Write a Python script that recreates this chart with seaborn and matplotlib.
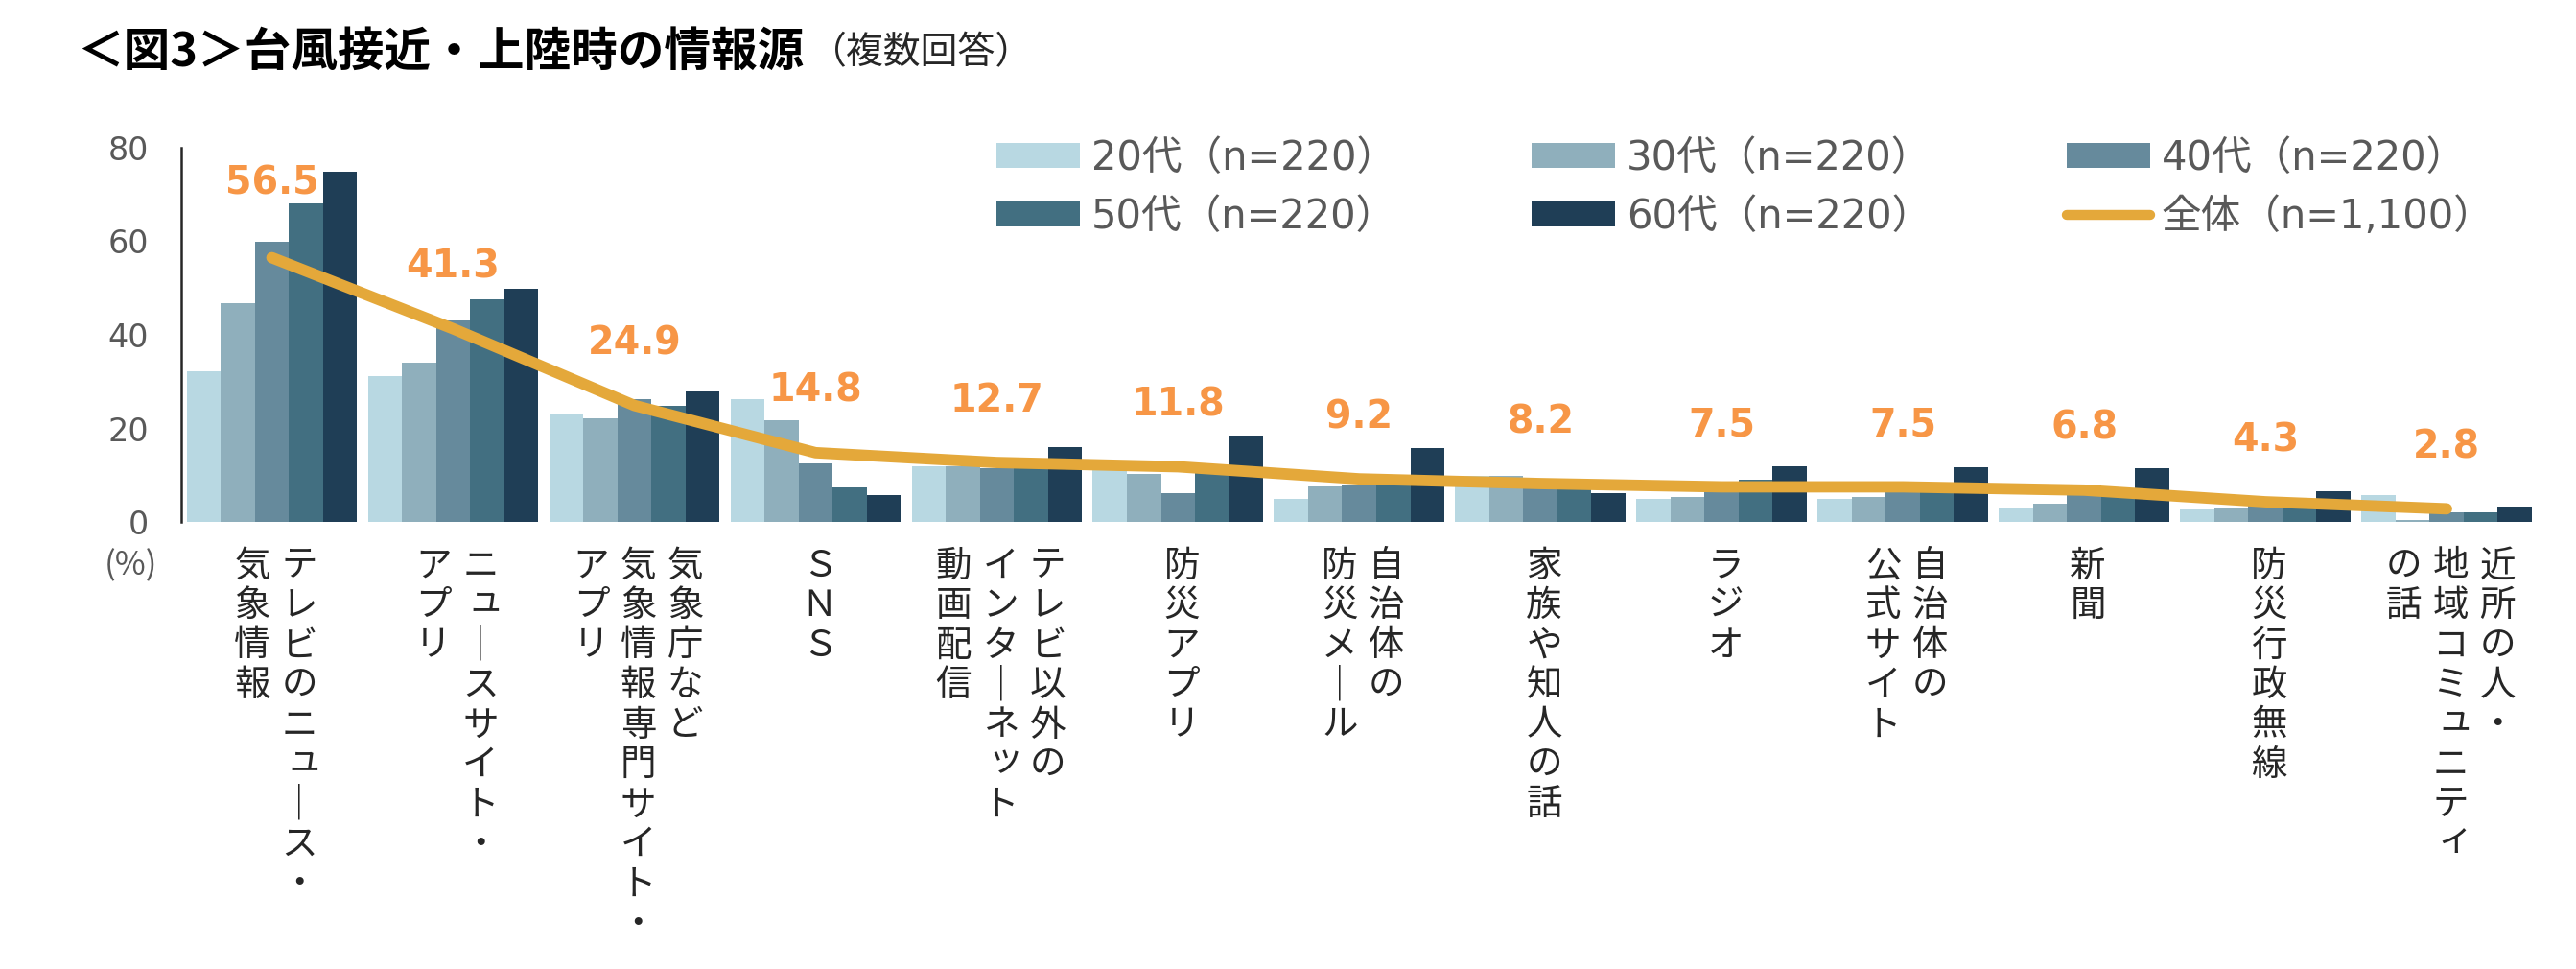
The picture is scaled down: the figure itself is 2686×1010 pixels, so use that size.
import numpy as np
import pandas as pd
import matplotlib
matplotlib.use("Agg")
import matplotlib.pyplot as plt
import seaborn as sns
from matplotlib.patches import Patch
from matplotlib.lines import Line2D

# ---------------- data ----------------
categories = [
    "テレビのニュース・\n気象情報",
    "ニュースサイト・\nアプリ",
    "気象庁など\n気象情報専門サイト・\nアプリ",
    "ＳＮＳ",
    "テレビ以外の\nインターネット\n動画配信",
    "防災アプリ",
    "自治体の\n防災メール",
    "家族や知人の話",
    "ラジオ",
    "自治体の\n公式サイト",
    "新聞",
    "防災行政無線",
    "近所の人・\n地域コミュニティ\nの話",
]
age_groups = ["20代", "30代", "40代", "50代", "60代"]
v20 = [32.3, 31.2, 23.0, 26.3, 11.8, 11.8, 4.9, 9.9, 4.9, 4.9, 3.1, 2.7, 5.8]
v30 = [46.8, 34.1, 22.2, 21.8, 11.8, 10.3, 7.6, 9.9, 5.3, 5.3, 3.9, 3.1, 0.4]
v40 = [59.9, 43.1, 26.3, 12.6, 11.4, 6.2, 8.0, 8.0, 6.3, 7.8, 8.0, 4.3, 2.1]
v50 = [68.1, 47.6, 24.9, 7.3, 12.5, 12.1, 9.6, 7.0, 9.1, 7.8, 7.2, 4.6, 2.1]
v60 = [74.9, 49.9, 27.8, 5.8, 15.9, 18.5, 15.8, 6.2, 11.8, 11.7, 11.4, 6.6, 3.2]
overall = [56.5, 41.3, 24.9, 14.8, 12.7, 11.8, 9.2, 8.2, 7.5, 7.5, 6.8, 4.3, 2.8]
legend_labels = ["20代（n=220）", "30代（n=220）", "40代（n=220）",
                 "50代（n=220）", "60代（n=220）", "全体（n=1,100）"]
yticks = [0, 20, 40, 60, 80]

# ---------------- style ----------------
bar_colors = ["#B8D8E2", "#8FAFBC", "#668A9C", "#426F81", "#1F3E56"]
line_color = "#E4A83A"
label_color = "#F79646"
text_gray = "#595959"
cjk = "Noto Sans CJK JP"

sns.set_style("white")
plt.rcParams["font.family"] = ["DejaVu Sans", cjk]

W, H = 2686, 1010
fig = plt.figure(figsize=(W / 100, H / 100), dpi=100)
ax = fig.add_axes([189 / W, 466 / H, (2645.5 - 189) / W, (856 - 466) / H])

df = pd.DataFrame({
    "cat": np.repeat(categories, len(age_groups)),
    "age": age_groups * len(categories),
    "val": np.column_stack([v20, v30, v40, v50, v60]).ravel(),
})

sns.barplot(data=df, x="cat", y="val", hue="age", order=categories,
            hue_order=age_groups, palette=bar_colors, saturation=1,
            width=0.94, gap=0, linewidth=0, errorbar=None, legend=False, ax=ax)

xpos = np.arange(len(categories))
sns.lineplot(x=xpos, y=overall, color=line_color, linewidth=8.5,
             solid_capstyle="round", solid_joinstyle="round",
             legend=False, ax=ax, zorder=4)

for i, v in enumerate(overall):
    dy = 77 if i == 0 else 64
    ax.annotate(f"{v:.1f}", xy=(i, v), xytext=(0, dy), textcoords="offset pixels",
                ha="center", va="center", fontsize=28.5, fontweight="bold",
                color=label_color, family="DejaVu Sans", zorder=5)

ax.set_xlim(-0.5, len(categories) - 0.5)
ax.set_ylim(0, 80)
ax.set_yticks(yticks)
ax.set_xticks([])
ax.set_xlabel("")
ax.set_ylabel("")
for s in ["top", "right", "bottom"]:
    ax.spines[s].set_visible(False)
ax.spines["left"].set_color("#262626")
ax.spines["left"].set_linewidth(1.8)
ax.tick_params(axis="y", direction="out", length=8.6, width=1.8, color="#262626",
               pad=16, labelsize=24, labelcolor=text_gray)
for t in ax.get_yticklabels():
    t.set_family("DejaVu Sans")

# vertical (tategaki) category labels
vert_map = {"ー": "｜"}
small_kana = set("ァィゥェォッャュョ")
pitch = 41.5
col_gap = 49
for i, cat in enumerate(categories):
    cols = cat.split("\n")
    n = len(cols)
    for k, col in enumerate(cols):
        dx = 4 + ((n - 1) / 2 - k) * col_gap
        for j, ch in enumerate(col):
            sx, sy = (5, 5) if ch in small_kana else (0, 0)
            ax.annotate(vert_map.get(ch, ch), xy=(i, 0),
                        xytext=(dx + sx, -(46 + j * pitch) + sy),
                        textcoords="offset pixels", ha="center", va="center",
                        fontsize=27, family=cjk, color="#262626",
                        annotation_clip=False)

ax.annotate("(%)", xy=(0, 0), xycoords="axes fraction", xytext=(-52, -46),
            textcoords="offset pixels", ha="center", va="center",
            fontsize=25, family=cjk, color=text_gray, annotation_clip=False)

# title
title = fig.text(80 / W, 1 - 54 / H, "＜図3＞台風接近・上陸時の情報源",
                 fontsize=35, fontweight="bold", family=cjk, color="#000000",
                 ha="left", va="center")
fig.canvas.draw()
ax.annotate("（複数回答）", xy=(1, 0.5), xycoords=title, xytext=(6, -1),
            textcoords="offset pixels", ha="left", va="center",
            fontsize=28, family=cjk, color="#262626", annotation_clip=False)

# legend (row-major order in 3 columns)
patches = [Patch(facecolor=c, edgecolor="none") for c in bar_colors]
line_h = Line2D([0], [0], color=line_color, linewidth=7.5, solid_capstyle="round")
handles = patches + [line_h]
order = [0, 3, 1, 4, 2, 5]
fig.legend([handles[o] for o in order], [legend_labels[o] for o in order],
           loc="upper left", bbox_to_anchor=(1039 / W, 1 - 144 / H), ncol=3,
           frameon=False, fontsize=30, handlelength=2.09, handleheight=0.58,
           handletextpad=0.29, columnspacing=3.37, labelspacing=0.45,
           borderpad=0, borderaxespad=0, labelcolor=text_gray)

fig.savefig("out.png", dpi=100)
